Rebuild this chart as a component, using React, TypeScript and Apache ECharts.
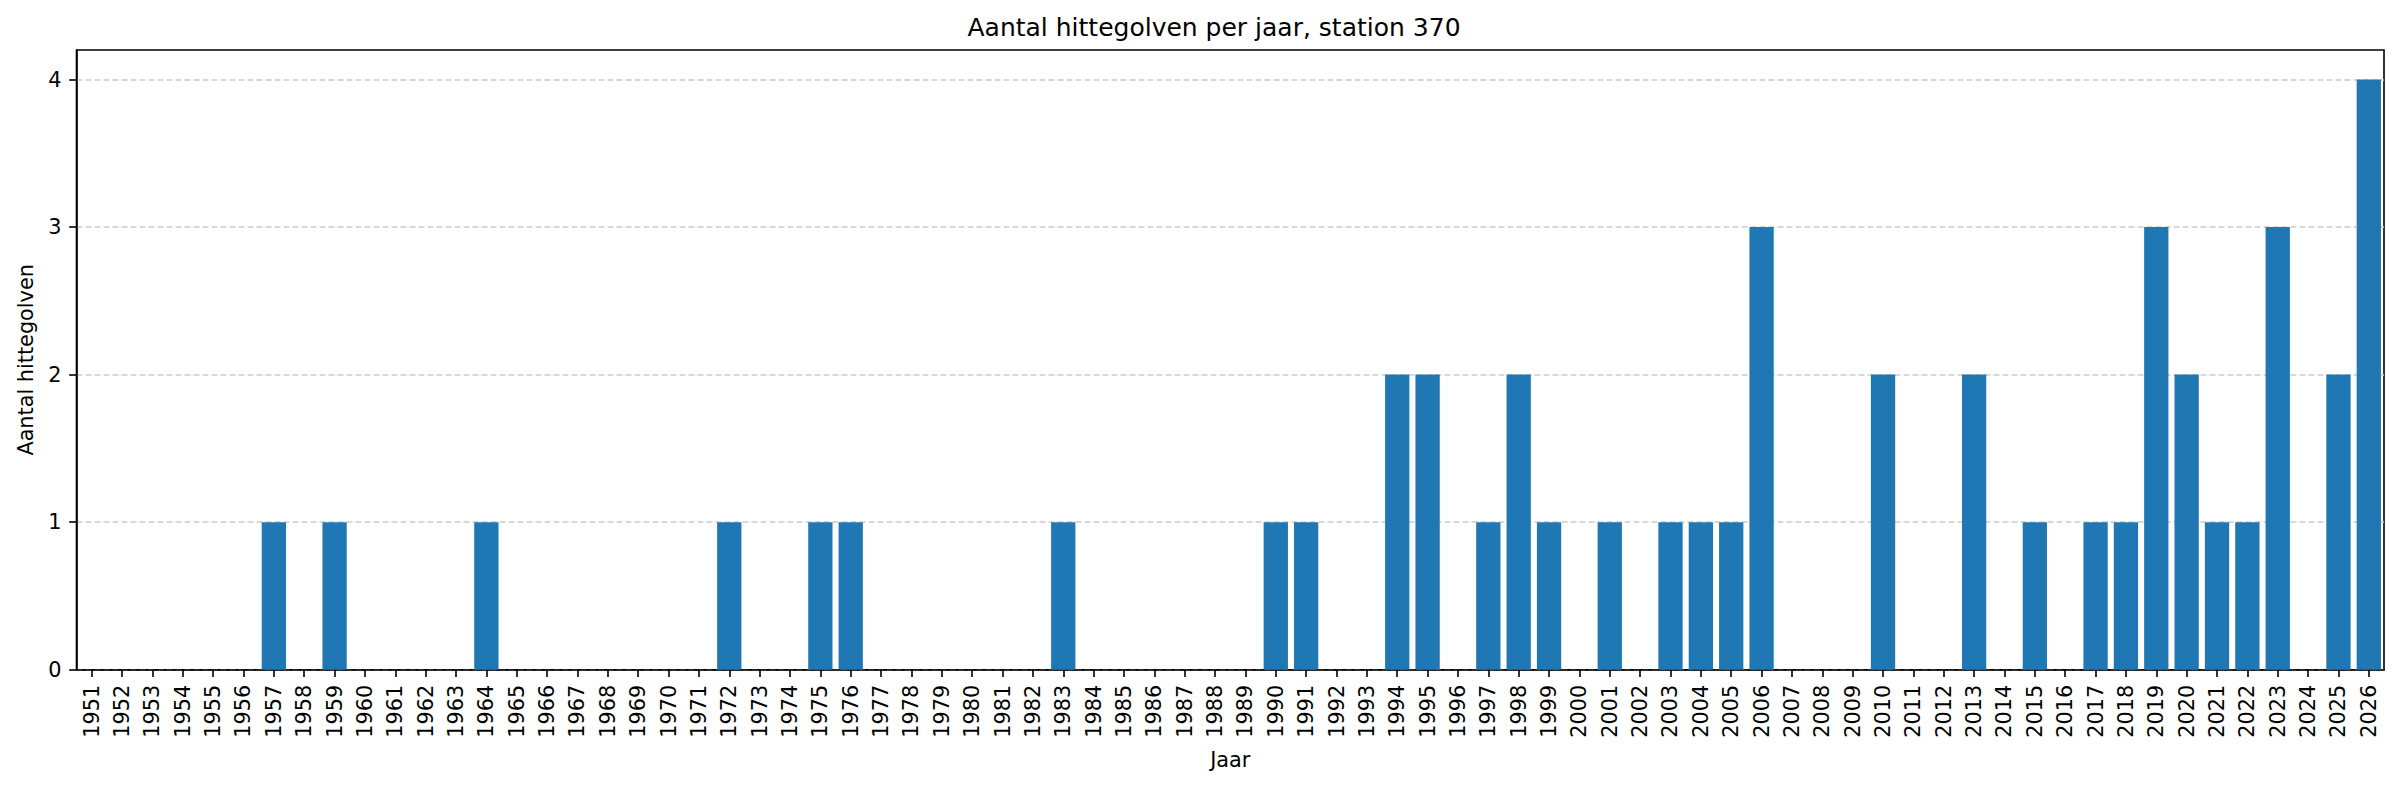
import React, { useEffect, useRef } from "react";
import * as echarts from "echarts";

const years: string[] = [
  "1951", "1952", "1953", "1954", "1955", "1956", "1957", "1958", "1959", "1960",
  "1961", "1962", "1963", "1964", "1965", "1966", "1967", "1968", "1969", "1970",
  "1971", "1972", "1973", "1974", "1975", "1976", "1977", "1978", "1979", "1980",
  "1981", "1982", "1983", "1984", "1985", "1986", "1987", "1988", "1989", "1990",
  "1991", "1992", "1993", "1994", "1995", "1996", "1997", "1998", "1999", "2000",
  "2001", "2002", "2003", "2004", "2005", "2006", "2007", "2008", "2009", "2010",
  "2011", "2012", "2013", "2014", "2015", "2016", "2017", "2018", "2019", "2020",
  "2021", "2022", "2023", "2024", "2025", "2026",
];

const heatwaves: number[] = [
  0, 0, 0, 0, 0, 0, 1, 0, 1, 0,
  0, 0, 0, 1, 0, 0, 0, 0, 0, 0,
  0, 1, 0, 0, 1, 1, 0, 0, 0, 0,
  0, 0, 1, 0, 0, 0, 0, 0, 0, 1,
  1, 0, 0, 2, 2, 0, 1, 2, 1, 0,
  1, 0, 1, 1, 1, 3, 0, 0, 0, 2,
  0, 0, 2, 0, 1, 0, 1, 1, 3, 2,
  1, 1, 3, 0, 2, 4,
];

const yTicks: number[] = [0, 1, 2, 3, 4];

const titleText = "Aantal hittegolven per jaar, station 370";
const xName = "Jaar";
const yName = "Aantal hittegolven";

const FONT = "DejaVu Sans";

export default function App() {
  const ref = useRef<HTMLDivElement>(null);

  useEffect(() => {
    if (!ref.current) return;
    const chart = echarts.init(ref.current, null, { renderer: "svg" });
    chart.setOption({
      animation: false,
      backgroundColor: "#ffffff",
      textStyle: { fontFamily: FONT },
      graphic: [
        {
          type: "text",
          x: 1214,
          y: 27,
          style: {
            text: titleText,
            font: `25px "${FONT}"`,
            fill: "#000",
            textAlign: "center",
            textVerticalAlign: "middle",
          },
        },
      ],
      grid: {
        left: 76.5,
        right: 16,
        top: 50,
        bottom: 119.3,
        show: true,
        borderColor: "#000",
        borderWidth: 1.6,
        backgroundColor: "transparent",
      },
      xAxis: {
        type: "category",
        data: years,
        boundaryGap: true,
        name: xName,
        nameLocation: "middle",
        nameGap: 80,
        nameTextStyle: { fontSize: 20.8, color: "#000", fontFamily: FONT },
        axisLine: { show: true, lineStyle: { color: "#000", width: 1.6 } },
        axisTick: {
          show: true,
          alignWithLabel: true,
          interval: 0,
          length: 7.3,
          lineStyle: { color: "#000", width: 1.6 },
        },
        axisLabel: {
          interval: 0,
          rotate: 90,
          fontSize: 20.8,
          color: "#000",
          fontFamily: FONT,
          margin: 15,
        },
        splitLine: { show: false },
      },
      yAxis: {
        type: "value",
        min: 0,
        max: 4.2,
        interval: 1,
        name: yName,
        nameLocation: "middle",
        nameGap: 40,
        nameTextStyle: { fontSize: 20.8, color: "#000", fontFamily: FONT },
        axisLine: { show: true, lineStyle: { color: "#000", width: 1.6 } },
        axisTick: {
          show: true,
          length: 7.3,
          customValues: yTicks,
          lineStyle: { color: "#000", width: 1.6 },
        },
        axisLabel: {
          fontSize: 20.8,
          color: "#000",
          fontFamily: FONT,
          margin: 15,
          customValues: yTicks,
        },
        splitLine: {
          show: true,
          lineStyle: { color: "#cccccc", width: 1.6, type: [6, 3] },
        },
      },
      series: [
        {
          type: "bar",
          data: heatwaves,
          barWidth: "80%",
          itemStyle: { color: "#1f77b4" },
        },
      ],
    });
    return () => chart.dispose();
  }, []);

  return (
    <div
      ref={ref}
      style={{ position: "fixed", left: 0, top: 0, width: 2400, height: 789, background: "#fff" }}
    />
  );
}
